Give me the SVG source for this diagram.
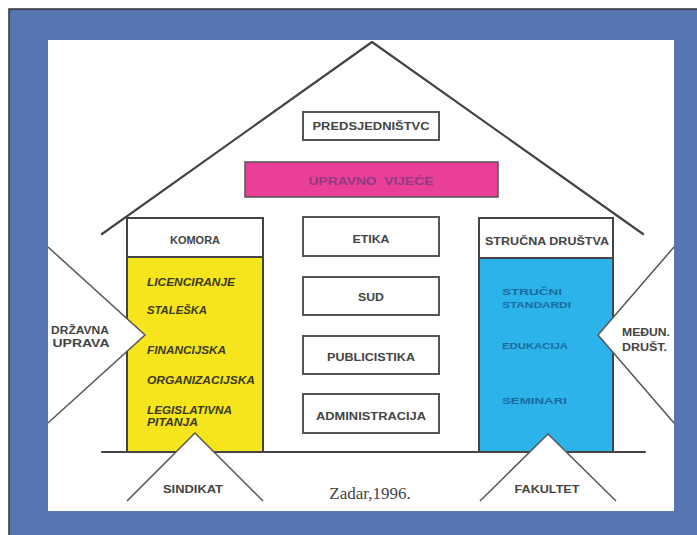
<svg xmlns="http://www.w3.org/2000/svg" width="697" height="535" viewBox="0 0 697 535">
<style>
.ln{fill:none;stroke:#444;stroke-width:2.2;stroke-linecap:round;stroke-linejoin:round}
.thin{fill:none;stroke:#555;stroke-width:1.5}
.box{fill:#fff;stroke:#555;stroke-width:2}
text{text-transform:uppercase}
.lbl{font-family:"Liberation Sans",Arial,sans-serif;font-weight:bold;font-size:11px;fill:#444;text-anchor:middle}
.st{text-anchor:start}
.yl{font-family:"Liberation Sans",Arial,sans-serif;font-weight:bold;font-style:italic;font-size:11px;fill:#3a3a20}
.bl{font-family:"Liberation Sans",Arial,sans-serif;font-weight:bold;font-size:9px;fill:#1c6a9c}
.tri{fill:#fff;stroke:none}
.zd{font-family:"Liberation Serif","Times New Roman",serif;font-size:17px;fill:#444;text-anchor:middle;text-transform:none}
</style>
<rect x="0" y="0" width="697" height="535" fill="#fff"/>
<rect x="9" y="9" width="688" height="526" fill="#5576b0"/>
<path d="M9,535 V9 H697" fill="none" stroke="#333" stroke-width="1.5"/>
<rect x="48" y="40" width="626" height="471" fill="#fff"/>

<g id="roof">
<polyline class="ln" points="102,234 372,42 643,234"/>
</g>

<g id="komora">
<rect x="127" y="218" width="136" height="234" fill="#f6e41c" stroke="#444" stroke-width="2"/>
<rect x="127" y="218" width="136" height="39" fill="#fff" stroke="#444" stroke-width="2"/>
<text class="lbl" x="195" y="244">KOMORA</text>
<text class="yl" x="147" y="286" textLength="88" lengthAdjust="spacingAndGlyphs">LICENCIRANJE</text>
<text class="yl" x="147" y="314" textLength="60" lengthAdjust="spacingAndGlyphs">STALEŠKA</text>
<text class="yl" x="147" y="354" textLength="79" lengthAdjust="spacingAndGlyphs">FINANCIJSKA</text>
<text class="yl" x="147" y="384" textLength="108" lengthAdjust="spacingAndGlyphs">ORGANIZACIJSKA</text>
<text class="yl" x="147" y="414" textLength="85" lengthAdjust="spacingAndGlyphs">LEGISLATIVNA</text>
<text class="yl" x="147" y="426" textLength="51" lengthAdjust="spacingAndGlyphs">PITANJA</text>
</g>

<g id="strucna">
<rect x="479" y="218" width="134" height="234" fill="#2bb3ea" stroke="#444" stroke-width="2"/>
<rect x="479" y="218" width="134" height="40" fill="#fff" stroke="#444" stroke-width="2"/>
<text class="lbl" x="547" y="245" textLength="124" lengthAdjust="spacingAndGlyphs">STRUČNA DRUŠTVA</text>
<text class="bl" x="502" y="295" textLength="60" lengthAdjust="spacingAndGlyphs">STRUČNI</text>
<text class="bl" x="502" y="308" textLength="69" lengthAdjust="spacingAndGlyphs">STANDARDI</text>
<text class="bl" x="502" y="349" textLength="66" lengthAdjust="spacingAndGlyphs">EDUKACIJA</text>
<text class="bl" x="502" y="404" textLength="65" lengthAdjust="spacingAndGlyphs">SEMINARI</text>
</g>

<g id="predsjednistvo">
<rect class="box" x="303" y="112" width="136" height="28"/>
<text class="lbl" x="371" y="130" textLength="117" lengthAdjust="spacingAndGlyphs">PREDSJEDNIŠTVC</text>
</g>

<g id="upravno">
<rect x="245" y="162" width="253" height="35" fill="#ea3f98" stroke="#555" stroke-width="1.5"/>
<text class="lbl" x="371" y="185" fill="#8e3a80" style="fill:#8e3a80" textLength="125" lengthAdjust="spacingAndGlyphs" xml:space="preserve">UPRAVNO  VIJEĆE</text>
</g>

<g id="etika">
<rect class="box" x="303" y="217" width="136" height="39"/>
<text class="lbl" x="371" y="243" textLength="37" lengthAdjust="spacingAndGlyphs">ETIKA</text>
</g>
<g id="sud">
<rect class="box" x="303" y="277" width="136" height="38"/>
<text class="lbl" x="371" y="301" textLength="26" lengthAdjust="spacingAndGlyphs">SUD</text>
</g>
<g id="publicistika">
<rect class="box" x="303" y="336" width="136" height="38"/>
<text class="lbl" x="371" y="361" textLength="88" lengthAdjust="spacingAndGlyphs">PUBLICISTIKA</text>
</g>
<g id="administracija">
<rect class="box" x="303" y="394" width="136" height="39"/>
<text class="lbl" x="371" y="420" textLength="110" lengthAdjust="spacingAndGlyphs">ADMINISTRACIJA</text>
</g>

<g id="connectors">
<line class="ln" x1="102" y1="452" x2="645" y2="452"/>
<polygon class="tri" points="48,247 145,335 48,423"/>
<polyline class="thin" points="48,247 145,335 48,423"/>
<polygon class="tri" points="674,247 598,335 674,423"/>
<polyline class="thin" points="674,247 598,335 674,423"/>
<polygon class="tri" points="127,501 195,433 263,501"/>
<polyline class="thin" points="127,501 195,433 263,501"/>
<polygon class="tri" points="480,501 548,434 616,501"/>
<polyline class="thin" points="480,501 548,434 616,501"/>
<line class="ln" x1="127" y1="452" x2="172" y2="452"/>
<line class="ln" x1="218" y1="452" x2="263" y2="452"/>
</g>

<g id="drzavna">
<text class="lbl" x="80" y="334" textLength="58" lengthAdjust="spacingAndGlyphs">DRŽAVNA</text>
<text class="lbl" x="81" y="347" textLength="57" lengthAdjust="spacingAndGlyphs">UPRAVA</text>
</g>
<g id="medun">
<text class="lbl st" x="622" y="336" textLength="48" lengthAdjust="spacingAndGlyphs">MEĐUN.</text>
<text class="lbl st" x="622" y="351" textLength="45" lengthAdjust="spacingAndGlyphs">DRUŠT.</text>
</g>
<g id="sindikat">
<text class="lbl" x="193" y="493" textLength="60" lengthAdjust="spacingAndGlyphs">SINDIKAT</text>
</g>
<g id="fakultet">
<text class="lbl" x="547" y="493" textLength="65" lengthAdjust="spacingAndGlyphs">FAKULTET</text>
</g>
<text class="zd" x="370" y="499">Zadar,1996.</text>
</svg>
